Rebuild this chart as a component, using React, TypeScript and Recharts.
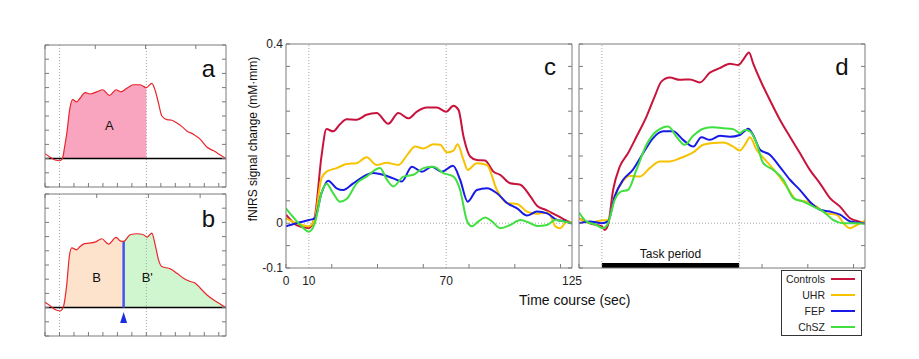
import React from "react";
import {
  Area,
  ComposedChart,
  Legend,
  Line,
  ReferenceArea,
  ReferenceDot,
  ReferenceLine,
  XAxis,
  YAxis,
} from "recharts";

// time axis (sec)
const TIME_DOMAIN: [number, number] = [0, 125];
const TASK_START = 10;
const TASK_END = 70;
const SPLIT = 54.3;
const schemTimeTicks = [0, 10, 20, 30, 40, 50, 60, 70, 80, 90, 100, 110, 120];
const timeTicks = [0, 20, 40, 60, 80, 100, 120];
const timeLabels = [0, 10, 70, 125];
const unitTicks = [-2, -1, 0, 1, 2, 3, 4, 5, 6, 7, 8];
const signalTicks = [-0.1, -0.05, 0, 0.05, 0.1, 0.15, 0.2, 0.25, 0.3, 0.35, 0.4];
const signalLabels = [-0.1, 0, 0.4];

const groupNames = ["Controls", "UHR", "FEP", "ChSZ"];
const groupColors = ["#c8143c", "#f7c200", "#1a1ae6", "#3fe03f"];

// schematic curves (arbitrary units)
const aCurve: [number, number][] = [
  [0, 0.35], [3.5, 0.1], [7, -0.1], [10, -0.15], [12, 0], [13.5, 0.8], [15, 1.75],
  [17.3, 3.6], [19.1, 4.15], [21.9, 4.0], [24.2, 4.25], [27.7, 4.65], [31.1, 4.55],
  [35.8, 4.7], [39.9, 4.85], [44.5, 4.45], [49.1, 4.85], [52.4, 4.7], [56.5, 4.95],
  [61.1, 5.2], [65.7, 5.2], [70, 5.0], [73.8, 5.3], [76.1, 4.8], [78.4, 3.9], [80.7, 3.0],
  [84.2, 2.75], [87.7, 2.7], [91.1, 2.5], [94.6, 2.25], [98, 1.95], [102.7, 1.7],
  [107.3, 1.35], [111.9, 0.8], [116.5, 0.55], [121.1, 0.25], [125, 0],
];
const bCurve: [number, number][] = [
  [0, 0.38], [3.5, 0.14], [6.9, -0.14], [10.4, -0.24], [12.5, 0], [15, 1.6], [16.8, 3.6],
  [18.5, 4.2], [21.9, 4.07], [24.2, 4.3], [26.5, 4.47], [30, 4.54], [34.6, 4.61],
  [39.2, 4.85], [43.8, 4.47], [49.1, 4.94], [51.9, 4.7], [54.3, 4.66], [58.8, 5.13],
  [63.4, 5.2], [68, 5.13], [70.4, 4.96], [73.8, 5.25], [76.1, 4.42], [78.4, 3.36],
  [80.7, 2.89], [86.5, 2.73], [91.1, 2.42], [95.7, 2.07], [100.3, 1.84], [103.8, 1.72],
  [107.3, 1.36], [111.9, 0.89], [116.5, 0.54], [121.1, 0.24], [125, 0],
];

// group averages, panel c
const cControls: [number, number][] = [
  [0, 0.019], [4.6, -0.004], [10, -0.011], [12.6, 0.015], [15.5, 0.149], [17.7, 0.21],
  [20.6, 0.205], [23.6, 0.221], [26.5, 0.232], [30.9, 0.231], [35.2, 0.242], [39.6, 0.246],
  [44.7, 0.222], [49.1, 0.246], [53.5, 0.234], [57.2, 0.249], [61.5, 0.258], [65.9, 0.258],
  [70, 0.249], [73.2, 0.262], [75.4, 0.253], [77.6, 0.193], [80.5, 0.149], [83.4, 0.141],
  [87, 0.14], [90.7, 0.115], [93.6, 0.108], [98, 0.089], [102.4, 0.086], [106.8, 0.06],
  [109.7, 0.039], [113.4, 0.03], [117, 0.021], [120.7, 0.011], [125, 0],
];
const cUHR: [number, number][] = [
  [0, 0.011], [4.6, 0], [10, -0.007], [12.6, 0.011], [15.5, 0.1], [17.7, 0.115],
  [22.1, 0.123], [26.5, 0.132], [30.9, 0.134], [35.2, 0.147], [39.6, 0.13], [44, 0.135],
  [49.1, 0.13], [53.5, 0.156], [56.4, 0.171], [60.1, 0.167], [64.4, 0.176], [67.4, 0.175],
  [70.3, 0.158], [73.2, 0.162], [75, 0.176], [77.6, 0.141], [79.4, 0.119], [83.4, 0.134],
  [87.8, 0.13], [92.2, 0.074], [96.6, 0.045], [101, 0.043], [105.3, 0.026], [109.7, 0.021],
  [114.8, 0.024], [117.7, -0.007], [119.9, -0.011], [122.8, 0.004], [125, 0.001],
];
const cFEP: [number, number][] = [
  [0, -0.007], [4.6, 0], [10, 0.007], [12.6, 0.011], [15.5, 0.067], [18.4, 0.095],
  [22.1, 0.078], [25, 0.074], [29.4, 0.089], [33.8, 0.104], [38.2, 0.112], [42.5, 0.108],
  [46.9, 0.1], [50.6, 0.093], [55, 0.126], [59.4, 0.115], [63.7, 0.126], [68.1, 0.115],
  [73, 0.128], [76.1, 0.097], [79.4, 0.048], [83.4, 0.074], [87.8, 0.078], [92.2, 0.067],
  [96.6, 0.045], [101, 0.033], [105.3, 0.017], [109.7, 0.026], [114.1, 0.022],
  [118.5, 0.007], [122.1, 0.004], [125, -0.001],
];
const cChSZ: [number, number][] = [
  [0, 0.033], [2.9, 0.015], [6.8, -0.007], [10, -0.019], [12.6, 0], [15.5, 0.067],
  [17.7, 0.088], [20.6, 0.067], [23.6, 0.048], [26.5, 0.054], [30.9, 0.089], [35.2, 0.104],
  [41.1, 0.123], [44, 0.098], [46.9, 0.082], [51.3, 0.104], [55.7, 0.108], [60.1, 0.123],
  [64.4, 0.126], [68.8, 0.112], [73.2, 0.104], [76.1, 0.074], [79, 0.007], [81.2, -0.007],
  [84.1, 0.004], [87, 0.013], [90, 0.004], [93.6, -0.011], [98, -0.004], [102.4, 0.007],
  [106.8, 0], [109.7, -0.006], [114.1, -0.004], [117.7, 0.007], [121.4, 0.004], [125, 0],
];

// group averages, panel d
const dControls: [number, number][] = [
  [0, 0.011], [4.7, 0], [10, -0.007], [11.2, -0.015], [12.7, -0.004], [14.9, 0.074],
  [17.8, 0.126], [21.4, 0.156], [25.1, 0.193], [29.5, 0.238], [33.1, 0.283], [36, 0.316],
  [39.7, 0.325], [44.1, 0.32], [48.5, 0.321], [52.8, 0.314], [57.2, 0.336], [61.5, 0.346],
  [65.9, 0.356], [69.6, 0.353], [71.8, 0.365], [74.3, 0.381], [76.1, 0.357], [79.8, 0.313],
  [83.4, 0.275], [87.8, 0.231], [92.2, 0.193], [96.6, 0.156], [100.9, 0.119], [105.3, 0.089],
  [109.7, 0.056], [114.1, 0.037], [118.5, 0.011], [122.1, 0.004], [125, 0],
];
const dUHR: [number, number][] = [
  [0, 0.011], [4.7, 0.001], [10, 0.006], [12.7, 0.007], [15.6, 0.06], [18.5, 0.089],
  [22.2, 0.106], [26.5, 0.104], [30.9, 0.123], [35.3, 0.138], [39.7, 0.138], [44.1, 0.145],
  [49.9, 0.158], [54.3, 0.175], [58.6, 0.179], [63, 0.18], [67.4, 0.171], [70.3, 0.162],
  [72.5, 0.175], [74.7, 0.192], [77.6, 0.164], [82, 0.138], [86.4, 0.112], [90.7, 0.082],
  [95.1, 0.052], [99.5, 0.048], [103.9, 0.037], [108.2, 0.022], [112.6, 0.019],
  [116.3, -0.004], [118.5, -0.011], [121.4, -0.004], [125, 0.006],
];
const dFEP: [number, number][] = [
  [0, 0], [4.7, 0.004], [10, 0], [12.7, 0.004], [15.6, 0.06], [19.3, 0.097], [23.5, 0.119],
  [28, 0.156], [32.4, 0.19], [36.8, 0.205], [41.1, 0.205], [45.5, 0.186], [49.9, 0.171],
  [53.5, 0.192], [57.2, 0.186], [61.6, 0.195], [65.9, 0.193], [70.3, 0.197], [74, 0.211],
  [76.1, 0.197], [79.1, 0.164], [83.4, 0.153], [87.8, 0.126], [92.2, 0.097], [96.6, 0.074],
  [100.9, 0.048], [105.3, 0.03], [109.7, 0.026], [114.1, 0.019], [118.5, 0.004], [125, 0],
];
const dChSZ: [number, number][] = [
  [0, 0.024], [3.2, 0.004], [7.6, -0.004], [10.5, -0.011], [12.7, 0], [15.6, 0.052],
  [18.5, 0.071], [21.4, 0.074], [25.1, 0.119], [29.5, 0.175], [33.8, 0.205], [39, 0.216],
  [42.6, 0.193], [46.2, 0.175], [49.9, 0.195], [54.3, 0.211], [58.6, 0.214], [63, 0.212],
  [67.4, 0.21], [70.3, 0.201], [72.5, 0.208], [74.7, 0.205], [77.6, 0.179], [80.5, 0.134],
  [84.9, 0.119], [89.3, 0.097], [93.7, 0.056], [98, 0.048], [102.4, 0.037], [106.8, 0.026],
  [111.2, 0.007], [115.5, 0], [119.9, 0], [125, -0.001],
];

const FONT = "'Liberation Sans', Arial, sans-serif";
const FRAME = "#7a7a7a";
const DOTTED = "#a8a8a8";
const TICK_LEN = 4;
const TICK_FONT = 12;

const toPts = (arr: [number, number][]) => arr.map(([t, v]) => ({ t, v }));
const has = (list: number[], v: number) => list.some((x) => Math.abs(x - v) < 1e-6);
const union = (a: number[], b: number[]) =>
  [...a, ...b.filter((v) => !has(a, v))].sort((p, q) => p - q);

type Side = "bottom" | "top" | "left" | "right";

// inward tick mark, plus an outside label for the labelled values
function sideTick(side: Side, marks: number[], labels: number[] = []) {
  return (props: any) => {
    const { x, y, payload } = props;
    const v = payload.value as number;
    const dx = side === "left" ? TICK_LEN : side === "right" ? -TICK_LEN : 0;
    const dy = side === "bottom" ? -TICK_LEN : side === "top" ? TICK_LEN : 0;
    return (
      <g>
        {has(marks, v) && <line x1={x} y1={y} x2={x + dx} y2={y + dy} stroke={FRAME} strokeWidth={1} />}
        {has(labels, v) && side === "bottom" && (
          <text x={x} y={y + 8 + 0.716 * TICK_FONT} textAnchor="middle" fontSize={TICK_FONT} fill="#222" fontFamily={FONT}>
            {v}
          </text>
        )}
        {has(labels, v) && side === "left" && (
          <text x={x - 3} y={y + 0.358 * TICK_FONT} textAnchor="end" fontSize={TICK_FONT} fill="#222" fontFamily={FONT}>
            {v}
          </text>
        )}
      </g>
    );
  };
}

// box frame with ticks on all four sides (mirror axes take no room)
function frame(
  xTicks: number[],
  yTicks: number[],
  yDomain: [number, number],
  xLabels: number[] = [],
  yLabels: number[] = [],
  bottomMarks: number[] = xTicks,
) {
  const common = {
    mirror: true,
    tickSize: 0,
    tickMargin: 0,
    tickLine: false,
    interval: 0 as const,
    stroke: FRAME,
    allowDataOverflow: true,
    type: "number" as const,
  };
  return [
    <XAxis key="xb" xAxisId="m" dataKey="t" orientation="bottom" domain={TIME_DOMAIN}
      ticks={union(xTicks, xLabels)} tick={sideTick("bottom", bottomMarks, xLabels)} {...common} />,
    <XAxis key="xt" xAxisId="top" orientation="top" domain={TIME_DOMAIN}
      ticks={xTicks} tick={sideTick("top", xTicks)} {...common} />,
    <YAxis key="yl" yAxisId="m" orientation="left" domain={yDomain}
      ticks={union(yTicks, yLabels)} tick={sideTick("left", yTicks, yLabels)} {...common} />,
    <YAxis key="yr" yAxisId="right" orientation="right" domain={yDomain}
      ticks={yTicks} tick={sideTick("right", yTicks)} {...common} />,
  ];
}

function Txt({
  x, y, size, anchor = "start", children,
}: { x: number; y: number; size: number; anchor?: "start" | "middle"; children: React.ReactNode }) {
  return (
    <div
      style={{
        position: "absolute",
        left: x,
        top: y - 0.8465 * size,
        fontSize: size,
        lineHeight: `${size}px`,
        whiteSpace: "nowrap",
        color: "#111",
        transform: anchor === "middle" ? "translateX(-50%)" : undefined,
      }}
    >
      {children}
    </div>
  );
}

function PanelA() {
  const data = aCurve.map(([t, v]) => ({
    t,
    v,
    fill: t >= 12 && t <= TASK_END ? Math.max(v, 0) : null,
  }));
  return (
    <ComposedChart width={189} height={150} data={data} margin={{ top: 4, right: 4, bottom: 4, left: 4 }}>
      {frame(schemTimeTicks, unitTicks, [-2, 8])}
      <ReferenceLine xAxisId="m" yAxisId="m" x={TASK_START} stroke={DOTTED} strokeDasharray="1 2" />
      <ReferenceLine xAxisId="m" yAxisId="m" x={TASK_END} stroke={DOTTED} strokeDasharray="1 2" />
      <Area xAxisId="m" yAxisId="m" dataKey="fill" type="monotone" stroke="none" fill="#f9a5bf" fillOpacity={1} baseValue={0} isAnimationActive={false} />
      <ReferenceLine xAxisId="m" yAxisId="m" y={0} stroke="#000" strokeWidth={1.5} />
      <Line xAxisId="m" yAxisId="m" dataKey="v" type="monotone" stroke="#e8262b" strokeWidth={1.2} dot={false} isAnimationActive={false} />
    </ComposedChart>
  );
}

function PanelB() {
  const data = bCurve.map(([t, v]) => ({
    t,
    v,
    before: t >= 12.5 && t <= SPLIT ? Math.max(v, 0) : null,
    after: t >= SPLIT ? Math.max(v, 0) : null,
  }));
  const splitValue = bCurve.find(([t]) => t === SPLIT)?.[1] ?? 0;
  return (
    <ComposedChart width={189} height={150} data={data} margin={{ top: 4, right: 4, bottom: 4, left: 4 }}>
      {frame(schemTimeTicks, unitTicks, [-2, 8])}
      <ReferenceLine xAxisId="m" yAxisId="m" x={TASK_START} stroke={DOTTED} strokeDasharray="1 2" />
      <ReferenceLine xAxisId="m" yAxisId="m" x={TASK_END} stroke={DOTTED} strokeDasharray="1 2" />
      <Area xAxisId="m" yAxisId="m" dataKey="before" type="monotone" stroke="none" fill="#fde2cc" fillOpacity={1} baseValue={0} isAnimationActive={false} />
      <Area xAxisId="m" yAxisId="m" dataKey="after" type="monotone" stroke="none" fill="#cff6cf" fillOpacity={1} baseValue={0} isAnimationActive={false} />
      <ReferenceLine xAxisId="m" yAxisId="m" y={0} stroke="#000" strokeWidth={1.5} />
      <ReferenceLine
        xAxisId="m"
        yAxisId="m"
        segment={[{ x: SPLIT, y: 0 }, { x: SPLIT, y: splitValue }]}
        stroke="#4455ee"
        strokeWidth={2.5}
      />
      <ReferenceDot
        xAxisId="m"
        yAxisId="m"
        x={SPLIT}
        y={-0.7}
        shape={(p: any) => (
          <polygon
            points={`${p.cx},${p.cy - 5.5} ${p.cx - 3.5},${p.cy + 5.5} ${p.cx + 3.5},${p.cy + 5.5}`}
            fill="#1a2ee0"
          />
        )}
      />
      <Line xAxisId="m" yAxisId="m" dataKey="v" type="monotone" stroke="#e8262b" strokeWidth={1.2} dot={false} isAnimationActive={false} />
    </ComposedChart>
  );
}

function groupLines(series: [number, number][][]) {
  return series.map((s, i) => (
    <Line
      key={groupNames[i]}
      xAxisId="m"
      yAxisId="m"
      data={toPts(s)}
      dataKey="v"
      name={groupNames[i]}
      type="monotone"
      stroke={groupColors[i]}
      strokeWidth={2}
      dot={false}
      isAnimationActive={false}
    />
  ));
}

function guides() {
  return [
    <ReferenceLine key="g10" xAxisId="m" yAxisId="m" x={TASK_START} stroke={DOTTED} strokeDasharray="1 2" />,
    <ReferenceLine key="g70" xAxisId="m" yAxisId="m" x={TASK_END} stroke={DOTTED} strokeDasharray="1 2" />,
    <ReferenceLine key="g0" xAxisId="m" yAxisId="m" y={0} stroke={DOTTED} strokeDasharray="1 2" />,
  ];
}

function PanelC() {
  return (
    <ComposedChart width={356} height={258} margin={{ top: 10, right: 10, bottom: 24, left: 60 }}>
      {frame(timeTicks, signalTicks, [-0.1, 0.4], timeLabels, signalLabels)}
      {guides()}
      {groupLines([cControls, cUHR, cFEP, cChSZ])}
    </ComposedChart>
  );
}

function LegendBox({ payload }: any) {
  const entries = groupNames.map((name, i) => {
    const found = (payload ?? []).find((e: any) => e.value === name);
    return { name, color: found?.color ?? groupColors[i] };
  });
  return (
    <div
      style={{
        width: 81,
        height: 66,
        boxSizing: "border-box",
        border: "1px solid #333",
        background: "#fff",
        fontFamily: FONT,
      }}
    >
      {entries.map((e) => (
        <div key={e.name} style={{ display: "flex", alignItems: "center", height: 16 }}>
          <span style={{ width: 43, textAlign: "right", fontSize: 10.5, color: "#222" }}>{e.name}</span>
          <span style={{ width: 24, height: 2, marginLeft: 6, background: e.color }} />
        </div>
      ))}
    </div>
  );
}

function PanelD() {
  // bottom tick marks are hidden under the task bar
  const bottomMarks = timeTicks.filter((t) => t < TASK_START || t > TASK_END);
  return (
    <ComposedChart width={294} height={232} margin={{ top: 4, right: 4, bottom: 4, left: 4 }}>
      {frame(timeTicks, signalTicks, [-0.1, 0.4], [], [], bottomMarks)}
      {guides()}
      <ReferenceArea
        xAxisId="m"
        yAxisId="m"
        x1={TASK_START}
        x2={TASK_END}
        y1={-0.1}
        y2={-0.089}
        fill="#000"
        fillOpacity={1}
        stroke="none"
        label={{ value: "Task period", position: "top", fontSize: 12, fill: "#111" }}
      />
      {groupLines([dControls, dUHR, dFEP, dChSZ])}
      <Legend
        layout="horizontal"
        verticalAlign="middle"
        align="center"
        wrapperStyle={{ left: 206, top: 230, width: 81, height: 66 }}
        content={<LegendBox />}
      />
    </ComposedChart>
  );
}

export default function App() {
  return (
    <div
      style={{
        position: "absolute",
        left: 0,
        top: 0,
        width: 919,
        height: 359,
        background: "#fff",
        fontFamily: FONT,
        overflow: "hidden",
      }}
    >
      <div style={{ position: "absolute", left: 41, top: 41 }}>
        <PanelA />
      </div>
      <div style={{ position: "absolute", left: 41, top: 190 }}>
        <PanelB />
      </div>
      <div style={{ position: "absolute", left: 226, top: 34 }}>
        <PanelC />
      </div>
      <div style={{ position: "absolute", left: 575, top: 40 }}>
        <PanelD />
      </div>

      <Txt x={208.5} y={77} size={24} anchor="middle">a</Txt>
      <Txt x={208.5} y={227} size={24} anchor="middle">b</Txt>
      <Txt x={550} y={75} size={24} anchor="middle">c</Txt>
      <Txt x={842} y={75} size={24} anchor="middle">d</Txt>
      <Txt x={109.3} y={130.5} size={13} anchor="middle">A</Txt>
      <Txt x={96.7} y={281.7} size={13} anchor="middle">B</Txt>
      <Txt x={141.7} y={281.7} size={13}>B'</Txt>
      <Txt x={519} y={305} size={14}>Time course (sec)</Txt>
      <div
        style={{
          position: "absolute",
          left: 253,
          top: 138.5,
          fontSize: 12,
          lineHeight: "12px",
          whiteSpace: "nowrap",
          color: "#111",
          transform: "translate(-50%, -50%) rotate(-90deg)",
        }}
      >
        fNIRS signal change (mM·mm)
      </div>
    </div>
  );
}
